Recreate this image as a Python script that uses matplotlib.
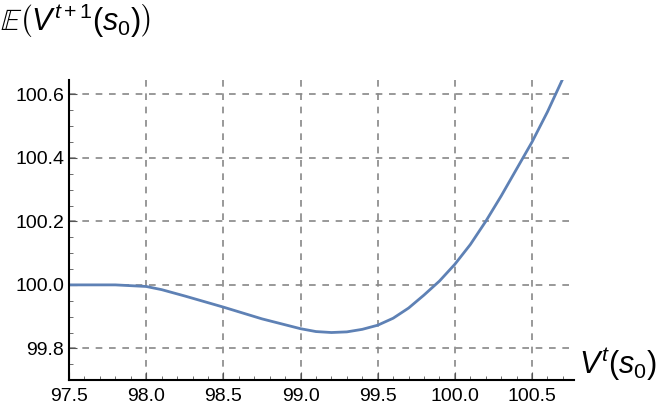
import numpy as np
import matplotlib
matplotlib.use('Agg')
import matplotlib.pyplot as plt
from matplotlib.ticker import MultipleLocator

plt.rcParams['font.family'] = ['Liberation Sans', 'DejaVu Sans']
plt.rcParams['mathtext.fontset'] = 'custom'
plt.rcParams['mathtext.it'] = 'Liberation Sans:italic'
plt.rcParams['mathtext.rm'] = 'Liberation Sans'

# values
v_t = [97.5, 97.8, 98.0, 98.1, 98.25, 98.5, 98.75, 99.0, 99.1, 99.2, 99.3, 99.4,
       99.5, 99.6, 99.7, 99.8, 99.9, 100.0, 100.1, 100.2, 100.3, 100.4, 100.5,
       100.6, 100.7]
e_v = [100.0, 100.0, 99.995, 99.985, 99.965, 99.93, 99.893, 99.862, 99.853, 99.85,
       99.852, 99.86, 99.873, 99.895, 99.927, 99.968, 100.012, 100.065, 100.127,
       100.2, 100.28, 100.365, 100.45, 100.545, 100.65]

fig = plt.figure(figsize=(6.64, 4.15), dpi=100)
ax = fig.add_axes([0.104, 0.084, 0.76, 0.723])

ax.plot(v_t, e_v, color='#5e81b5', linewidth=2, solid_capstyle='butt')

ax.set_xlim(97.5, 100.77)
ax.set_ylim(99.7, 100.645)
ax.xaxis.set_major_locator(MultipleLocator(0.5))
ax.xaxis.set_minor_locator(MultipleLocator(0.1))
ax.yaxis.set_major_locator(MultipleLocator(0.2))
ax.yaxis.set_minor_locator(MultipleLocator(0.05))
ax.xaxis.set_major_formatter(plt.FuncFormatter(lambda v, p: f'{v:.1f}'))
ax.yaxis.set_major_formatter(plt.FuncFormatter(lambda v, p: f'{v:.1f}'))
ax.tick_params(which='both', direction='in', labelsize=14, color='#555555')
ax.tick_params(which='major', length=6)
ax.tick_params(which='minor', length=3)
ax.tick_params(axis='x', pad=6)

ax.grid(True, which='major', linestyle=(0, (4, 4)), color='#888888', linewidth=1.2)
for s in ['top', 'right']:
    ax.spines[s].set_visible(False)
for s in ['left', 'bottom']:
    ax.spines[s].set_linewidth(1.5)

ax.text(1.01, -0.01, r'$V^{t}(s_0)$', transform=ax.transAxes, fontsize=22,
        ha='left', va='bottom')
fig.text(0.0, 0.995, r'$\mathbb{E}\left(V^{t+1}(s_0)\right)$', fontsize=22,
         ha='left', va='top')

fig.savefig('out.png', dpi=100)
